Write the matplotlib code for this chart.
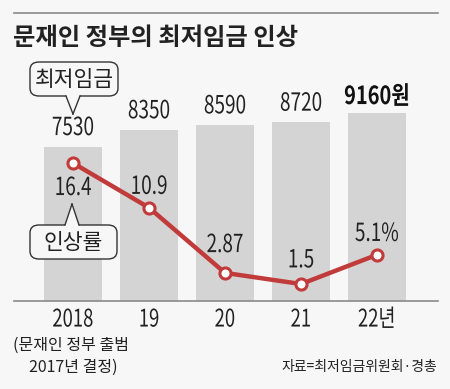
import matplotlib
matplotlib.use("Agg")
import matplotlib.pyplot as plt
from matplotlib.patches import FancyBboxPatch, Polygon
from matplotlib.lines import Line2D
from matplotlib.patheffects import AbstractPathEffect
from matplotlib.transforms import Affine2D

years = ["2018", "19", "20", "21", "22년"]
wages = [7530, 8350, 8590, 8720, 9160]
wage_labels = ["7530", "8350", "8590", "8720", "9160원"]
rates = [16.4, 10.9, 2.87, 1.5, 5.1]
rate_labels = ["16.4", "10.9", "2.87", "1.5", "5.1%"]

KR = ["Noto Sans CJK KR", "DejaVu Sans"]

BG = "#f7f7f7"
BAR = "#d4d4d4"
RED = "#c23b3b"
TXT = "#222222"
W, H = 450, 389


class Condense(AbstractPathEffect):
    def __init__(self, sx=0.75, anchor="center"):
        super().__init__()
        self.sx = sx
        self.anchor = anchor

    def draw_path(self, renderer, gc, tpath, affine, rgbFace=None):
        ext = tpath.transformed(affine).get_extents()
        if self.anchor == "left":
            cx = ext.x0
        elif self.anchor == "right":
            cx = ext.x1
        else:
            cx = (ext.x0 + ext.x1) / 2
        new = affine + Affine2D().translate(-cx, 0).scale(self.sx, 1).translate(cx, 0)
        renderer.draw_path(gc, tpath, new, rgbFace)


NARROW = [Condense(0.76)]

fig = plt.figure(figsize=(4.5, 3.89), dpi=100, facecolor=BG)


def fx(px):
    return px / W


def fy(py):
    return 1 - py / H


ax_left, ax_right, ax_top, ax_bot = 14, 438, 100, 301
ax = fig.add_axes([fx(ax_left), fy(ax_bot), fx(ax_right - ax_left), (ax_bot - ax_top) / H])
ax.set_facecolor("none")
hpx = ax_bot - ax_top
ax.set_ylim(0, hpx / 0.0205)
ax.set_xlim(-59 / 76, (424 - 59) / 76)
x = list(range(len(years)))
ax.bar(x, wages, width=58 / 76, color=BAR, zorder=1)
for s in ["top", "right", "left"]:
    ax.spines[s].set_visible(False)
ax.spines["bottom"].set_color("#8a8a8a")
ax.spines["bottom"].set_linewidth(1.2)
ax.set_yticks([])
ax.set_xticks(x)
ax.set_xticklabels(years, fontsize=17.5, family=KR, color=TXT)
for t in ax.get_xticklabels():
    t.set_path_effects(NARROW)
ax.tick_params(axis="x", length=0, pad=4)

for i, (v, lab) in enumerate(zip(wages, wage_labels)):
    bold = i == len(wages) - 1
    ax.annotate(lab, (i, v), xytext=(0, 3 if bold else 4), textcoords="offset points",
                ha="center", va="bottom", fontsize=18, family=KR, color="#111" if bold else TXT,
                fontweight="bold" if bold else "normal", zorder=5,
                path_effects=[Condense(0.8)] if bold else NARROW)

ax2 = ax.twinx()
ax2.set_facecolor("none")
ax2.set_ylim(-4.8 / 8.12, (hpx - 4.8) / 8.12)
ax2.set_yticks([])
for s in ax2.spines.values():
    s.set_visible(False)
ax2.plot(x, rates, color=RED, lw=3.2, marker="o", ms=8, mfc="white", mec=RED, mew=2.2, zorder=4)
offs = [-18, 15, 20, 17, 15]
for i, (v, lab) in enumerate(zip(rates, rate_labels)):
    ax2.annotate(lab, (i, v), xytext=(0, offs[i]), textcoords="offset points",
                 ha="center", va="center", fontsize=18, family=KR, color=TXT, zorder=6,
                 path_effects=NARROW)


def callout(x0, y0, x1, y1, tip, text, up=False):
    box = FancyBboxPatch((fx(x0), fy(y1)), fx(x1 - x0), (y1 - y0) / H,
                         boxstyle="round,pad=0,rounding_size=0.02",
                         transform=fig.transFigure, facecolor=BG, edgecolor="#333",
                         lw=1.0, zorder=10)
    fig.add_artist(box)
    tx, ty = tip
    cx = tx
    hw = 7
    by = y0 if up else y1
    tri = Polygon([(fx(cx - hw), fy(by + (1 if up else -1))), (fx(tx), fy(ty)),
                   (fx(cx + hw), fy(by + (1 if up else -1)))],
                  closed=True, transform=fig.transFigure, facecolor=BG, edgecolor="none", zorder=11)
    fig.add_artist(tri)
    for sx in (cx - hw, cx + hw):
        fig.add_artist(Line2D([fx(sx), fx(tx)], [fy(by), fy(ty)], transform=fig.transFigure,
                              color="#333", lw=1.0, zorder=12))
    fig.text(fx((x0 + x1) / 2), fy((y0 + y1) / 2 + 1), text, ha="center", va="center",
             fontsize=15.5, family=KR, color=TXT, zorder=13)


callout(30, 62, 118, 96, (73, 114), "최저임금")
callout(30, 225, 117, 259, (72, 204), "인상률", up=True)

fig.add_artist(Line2D([fx(14), fx(438)], [fy(13), fy(13)], transform=fig.transFigure, color="#8a8a8a", lw=1.2))
fig.text(fx(13), fy(38), "문재인 정부의 최저임금 인상", ha="left", va="center",
         fontsize=17.5, fontweight="bold", family=KR, color=TXT)
fig.text(fx(13), fy(345), "(문재인 정부 출범", ha="left", va="center", fontsize=11.5, family=KR, color=TXT)
fig.text(fx(73), fy(367), "2017년 결정)", ha="center", va="center", fontsize=11.5, family=KR, color=TXT)
fig.text(fx(437), fy(367), "자료=최저임금위원회·경총", ha="right", va="center", fontsize=10, family=KR, color=TXT)

fig.savefig("out.png", dpi=100, facecolor=BG)
